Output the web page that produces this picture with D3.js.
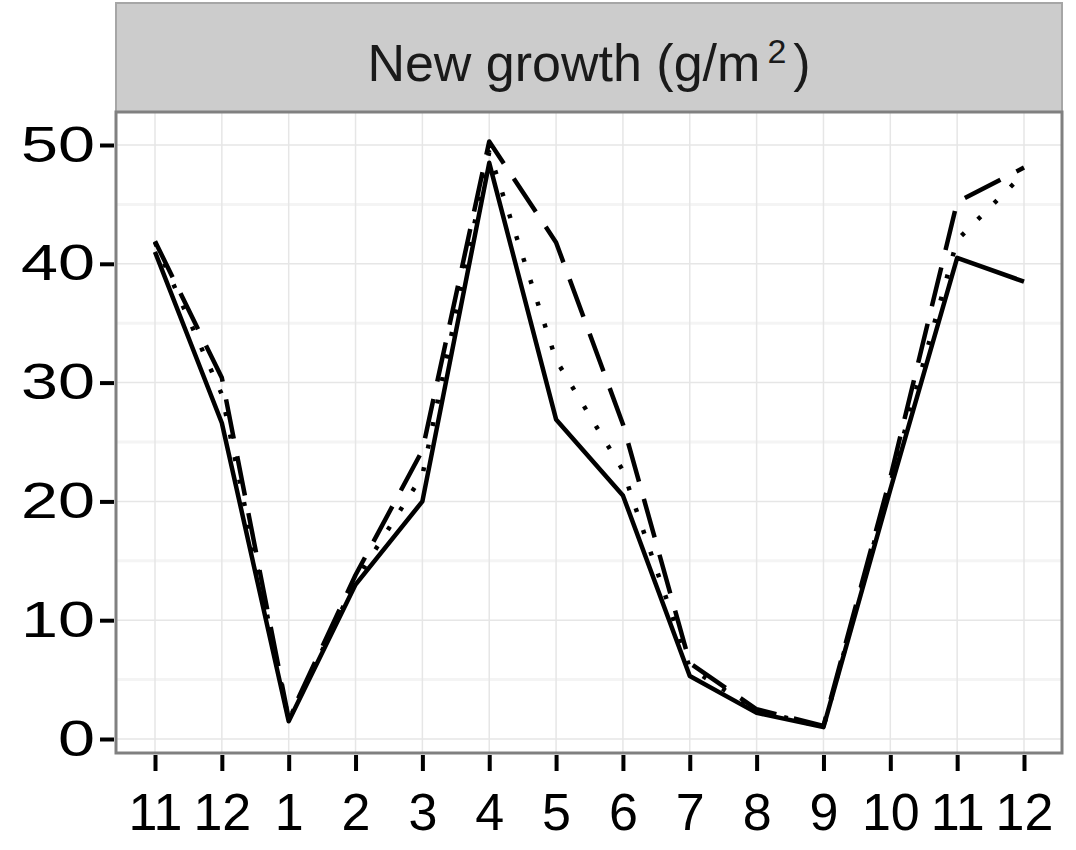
<!DOCTYPE html>
<html>
<head>
<meta charset="utf-8">
<script src="https://cdn.jsdelivr.net/npm/d3@7"></script>
<style>
  body { margin: 0; background: #fff; }
  svg { display: block; font-family: 'Liberation Sans', Arial, sans-serif; }
</style>
</head>
<body>
<div id="chart"></div>
<script>
// month labels along x (Nov of year 1 to Dec of year 2)
const months = ['11', '12', '1', '2', '3', '4', '5', '6', '7', '8', '9', '10', '11', '12']

// three treatments
const solidSeries  = [41.0, 26.6, 1.5, 13.0, 20.0, 48.5, 26.9, 20.5, 5.3, 2.2, 1.0, 21.0, 40.5, 38.5]
const dottedSeries = [41.8, 29.0, 1.6, 13.3, 22.2, 49.4, 31.9, 22.6, 6.0, 2.4, 1.0, 21.5, 42.0, 47.6]
const dashedSeries = [41.9, 30.4, 1.7, 13.8, 24.3, 50.3, 41.8, 26.5, 6.4, 2.5, 1.1, 22.0, 45.2, 48.1]

const yTicks = [0, 10, 20, 30, 40, 50]
const yMinor = [5, 15, 25, 35, 45]

const series = [
  { name: 'solid',  values: solidSeries,  dash: null },
  { name: 'dotted', values: dottedSeries, dash: '4,19' },
  { name: 'dashed', values: dashedSeries, dash: '40,18' }
]

const width = 1076, height = 850
const panel = { left: 116, right: 1062, top: 112, bottom: 753 }
const strip = { top: 3, bottom: 112 }

const x = d3.scaleLinear().domain([0, months.length - 1]).range([155, 1024])
const y = d3.scaleLinear().domain([0, 50]).range([739, 145])

const svg = d3.select('#chart').append('svg')
  .attr('width', width)
  .attr('height', height)

// strip
svg.append('rect')
  .attr('x', panel.left)
  .attr('y', strip.top)
  .attr('width', panel.right - panel.left)
  .attr('height', strip.bottom - strip.top)
  .attr('fill', '#cccccc')
  .attr('stroke', '#a6a6a6')
  .attr('stroke-width', 2)

let title = svg.append('text')
  .attr('x', (panel.left + panel.right) / 2)
  .attr('y', 81)
  .attr('text-anchor', 'middle')
  .attr('font-size', 52)
  .attr('fill', '#1a1a1a')
title.append('tspan').text('New growth (g/m')
title.append('tspan').attr('font-size', 34).attr('dx', 7).attr('dy', -18).text('2')
title.append('tspan').attr('dx', 7).attr('dy', 18).text(')')

// panel background + grid
svg.append('rect')
  .attr('x', panel.left)
  .attr('y', panel.top)
  .attr('width', panel.right - panel.left)
  .attr('height', panel.bottom - panel.top)
  .attr('fill', '#fff')

let grid = svg.append('g')
grid.selectAll('.minor').data(yMinor).enter().append('line')
  .attr('x1', panel.left).attr('x2', panel.right)
  .attr('y1', d => y(d)).attr('y2', d => y(d))
  .attr('stroke', '#f4f4f4').attr('stroke-width', 3)
grid.selectAll('.ymajor').data(yTicks).enter().append('line')
  .attr('x1', panel.left).attr('x2', panel.right)
  .attr('y1', d => y(d)).attr('y2', d => y(d))
  .attr('stroke', '#e6e6e6').attr('stroke-width', 1.5)
grid.selectAll('.xmajor').data(months.map((m, i) => i)).enter().append('line')
  .attr('y1', panel.top).attr('y2', panel.bottom)
  .attr('x1', d => x(d)).attr('x2', d => x(d))
  .attr('stroke', '#e6e6e6').attr('stroke-width', 1.5)

// lines
const line = d3.line()
  .x((d, i) => x(i))
  .y(d => y(d))

svg.append('g').selectAll('path').data(series).enter().append('path')
  .attr('d', d => line(d.values))
  .attr('fill', 'none')
  .attr('stroke', '#000')
  .attr('stroke-width', 4.5)
  .attr('stroke-linejoin', 'round')
  .attr('stroke-dasharray', d => d.dash)

// panel border
svg.append('rect')
  .attr('x', panel.left)
  .attr('y', panel.top)
  .attr('width', panel.right - panel.left)
  .attr('height', panel.bottom - panel.top)
  .attr('fill', 'none')
  .attr('stroke', '#808080')
  .attr('stroke-width', 3)

// axes
let yAxis = svg.append('g')
  .attr('transform', `translate(${panel.left - 2},0)`)
  .call(d3.axisLeft(y).tickValues(yTicks).tickSize(14).tickPadding(5))
yAxis.select('.domain').remove()
yAxis.selectAll('.tick line').attr('stroke', '#000').attr('stroke-width', 4)
// the digits in the picture are a bit wider than Liberation Sans
yAxis.selectAll('.tick text')
  .attr('font-size', 50)
  .attr('fill', '#000')
  .attr('font-family', "'Liberation Sans', Arial, sans-serif")
  .attr('textLength', d => String(d).length * 37)
  .attr('lengthAdjust', 'spacingAndGlyphs')

let xAxis = svg.append('g')
  .attr('transform', `translate(0,${panel.bottom + 2})`)
  .call(d3.axisBottom(x).tickValues(months.map((m, i) => i)).tickFormat(i => months[i]).tickSize(16).tickPadding(22))
xAxis.select('.domain').remove()
xAxis.selectAll('.tick line').attr('stroke', '#000').attr('stroke-width', 4)
xAxis.selectAll('.tick text')
  .attr('font-size', 52)
  .attr('fill', '#000')
  .attr('font-family', "'Liberation Sans', Arial, sans-serif")
</script>
</body>
</html>
